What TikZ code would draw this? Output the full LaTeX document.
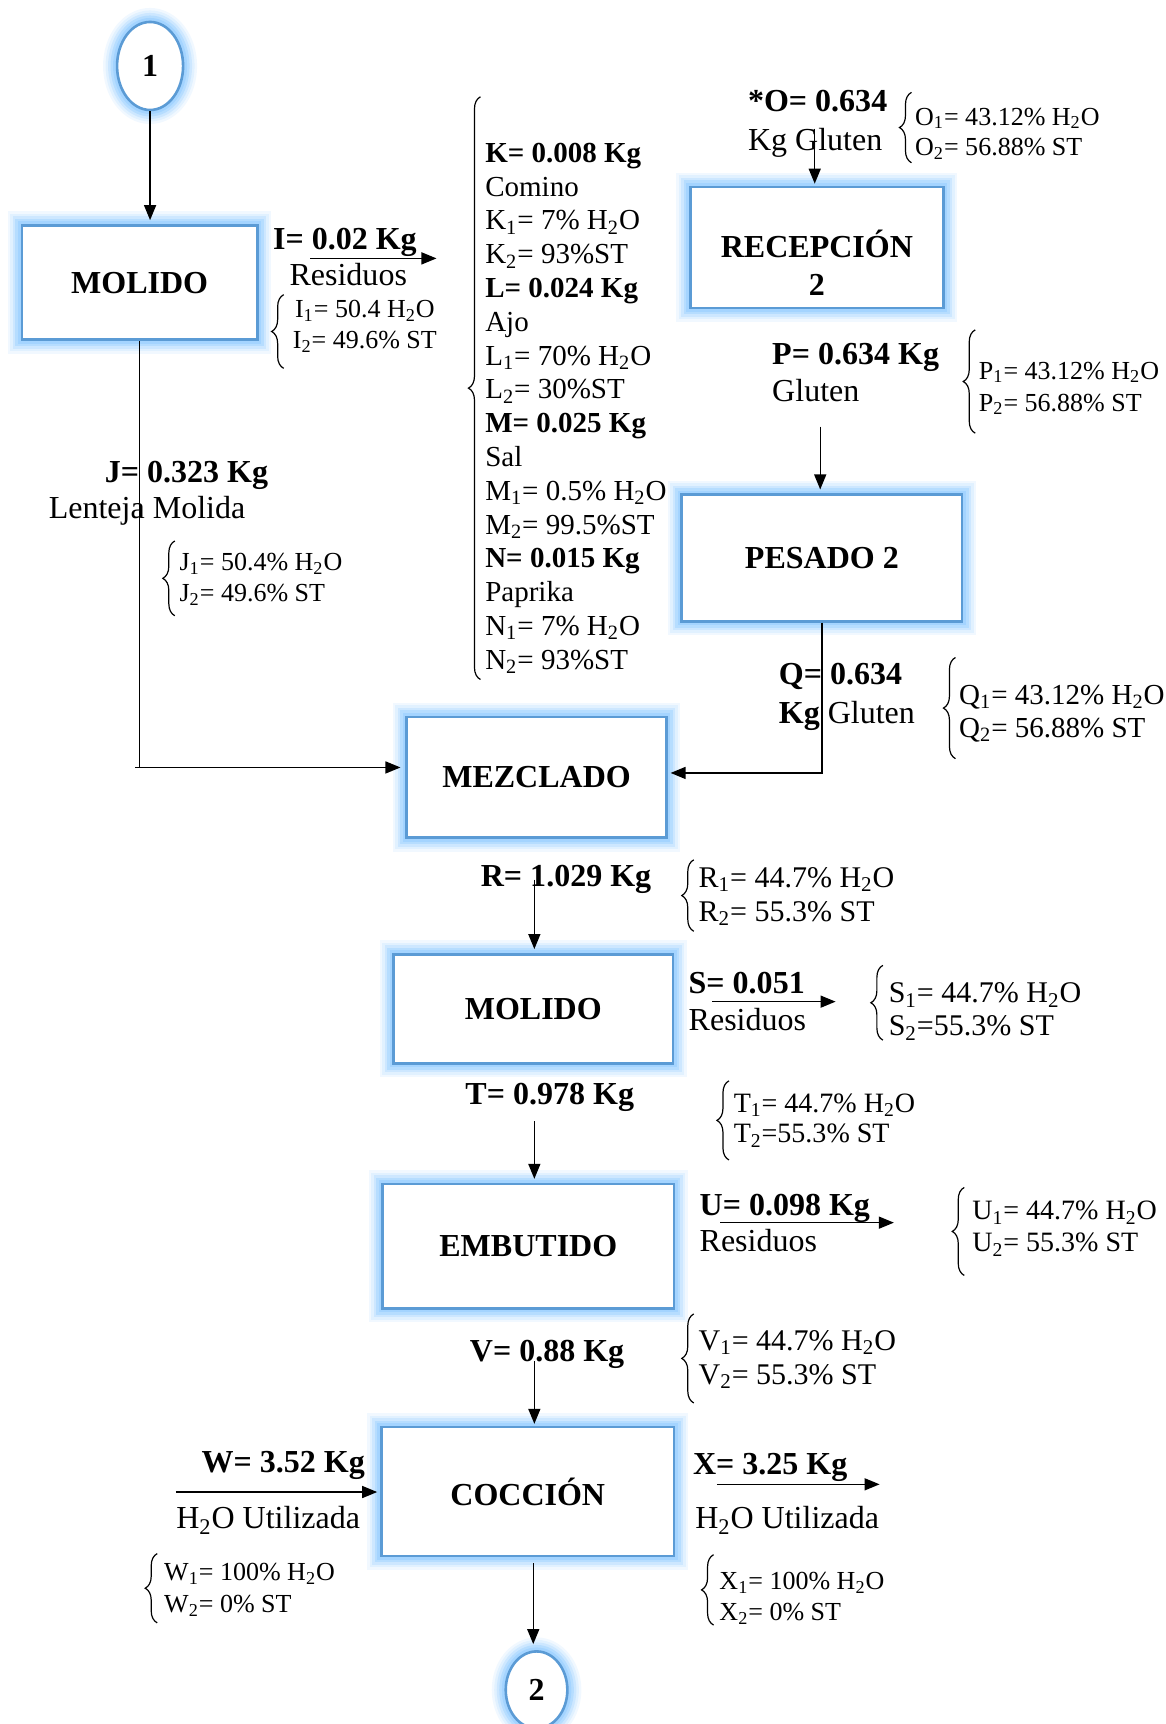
\documentclass[tikz,border=0pt]{standalone}
\usepackage{fontspec}
\setmainfont{Liberation Serif}
\usetikzlibrary{shapes.geometric,arrows.meta,decorations.pathreplacing,calc}
\definecolor{boxblue}{RGB}{91,155,213}
\definecolor{glowblue}{RGB}{160,210,255}
\newcommand\sbs[1]{\textsubscript{#1}}
\newcommand\hdo{H\sbs{2}O}
\begin{document}
\begin{tikzpicture}[x=0.5495pt,y=-0.5495pt,
  glow/.style={preaction={draw=glowblue,line width=14pt,opacity=.15},
               preaction={draw=glowblue,line width=11.5pt,opacity=.2},
               preaction={draw=glowblue,line width=9pt,opacity=.3},
               preaction={draw=glowblue,line width=6.5pt,opacity=.5},
               preaction={draw=glowblue,line width=4pt,opacity=.8}},
  proc/.style={glow,draw=boxblue,line width=1.3pt,fill=white,inner sep=0pt,
               font=\fontsize{16pt}{18.7pt}\selectfont\bfseries,align=center},
  conn/.style={glow,ellipse,draw=boxblue,line width=1.3pt,fill=white,inner sep=0pt,
               font=\fontsize{16pt}{18pt}\selectfont\bfseries},
  txt/.style={anchor=base west,inner sep=0pt,font=\fontsize{#1pt}{#1pt}\selectfont,yshift=-0.33*#1pt},
  arr/.style={line width=0.7pt,-{Triangle[length=7.5pt,width=6pt]}},
  brc/.style={decorate,decoration={brace,amplitude=6pt},line width=0.6pt}]
\useasboundingbox (0,0) rectangle (1060,1568);

% ---------- process boxes and connectors ----------
\node[conn,minimum width=33pt,minimum height=44pt] (c1) at (136.5,60) {1};
\node[proc,minimum width=117.6pt,minimum height=57.1pt] (mol1) at (127,257) {MOLIDO};
\node[proc,minimum width=126.4pt,minimum height=60.4pt] (rec) at (743,225) {};
\node[font=\fontsize{16pt}{18.7pt}\selectfont\bfseries,align=center,inner sep=0pt] (rect) at (743,239) {RECEPCIÓN\\2};
\node[proc,minimum width=140.1pt,minimum height=63.2pt] (pes) at (747.5,507.5) {PESADO 2};
\node[proc,minimum width=129.7pt,minimum height=60.4pt] (mez) at (488,707) {MEZCLADO};
\node[proc,minimum width=139.6pt,minimum height=54.4pt] (mol2) at (485,917.5) {MOLIDO};
\node[proc,minimum width=145.6pt,minimum height=62.1pt] (emb) at (480.5,1133.5) {EMBUTIDO};
\node[proc,minimum width=146.2pt,minimum height=64.3pt] (coc) at (480,1356.5) {COCCIÓN};
\node[conn,minimum width=30.8pt,minimum height=38.5pt] (c2) at (488,1537) {2};

% ---------- I: residue of first milling ----------
\node[txt=16] (iv) at (248,217) {\textbf{I= 0.02 Kg}};
\node[txt=16] (ir) at (263,250) {Residuos};
\draw[brc] (258,335) -- (258,268);
\node[txt=13] (i1) at (268,281) {I\sbs{1}= 50.4 \hdo};
\node[txt=13] (i2) at (266,309) {I\sbs{2}= 49.6\% ST};

% ---------- J: milled lentil ----------
\node[txt=16] (jv) at (95,429) {\textbf{J= 0.323 Kg}};
\node[txt=16] (jn) at (44,462) {Lenteja Molida};
\draw[brc] (159,560) -- (159,492);
\node[txt=13] (j1) at (163,511) {J\sbs{1}= 50.4\% \hdo};
\node[txt=13] (j2) at (163,539) {J\sbs{2}= 49.6\% ST};

% ---------- spices ----------
\draw[brc] (437,618) -- (437,88);
\foreach \t [count=\i] in {
  \textbf{K= 0.008 Kg}, Comino, K\sbs{1}= 7\% \hdo, K\sbs{2}= 93\%ST,
  \textbf{L= 0.024 Kg}, Ajo, L\sbs{1}= 70\% \hdo, L\sbs{2}= 30\%ST,
  \textbf{M= 0.025 Kg}, Sal, M\sbs{1}= 0.5\% \hdo, M\sbs{2}= 99.5\%ST,
  \textbf{N= 0.015 Kg}, Paprika, N\sbs{1}= 7\% \hdo, N\sbs{2}= 93\%ST}
  \node[txt=14.5] (sp\i) at (441,{139+30.73*(\i-1)}) {\t};

% ---------- O: gluten reception ----------
\node[txt=16] (ov) at (680,92) {\textbf{*O= 0.634}};
\node[txt=16] (og) at (680,127) {Kg Gluten};
\draw[brc] (829,148) -- (829,84);
\node[txt=13] (o1) at (832,106) {O\sbs{1}= 43.12\% \hdo};
\node[txt=13] (o2) at (832,134) {O\sbs{2}= 56.88\% ST};

% ---------- P ----------
\node[txt=16] (pv) at (702,322) {\textbf{P= 0.634 Kg}};
\node[txt=16] (pg) at (702,356) {Gluten};
\draw[brc] (887,394) -- (887,300);
\node[txt=13] (p1) at (890,337) {P\sbs{1}= 43.12\% \hdo};
\node[txt=13] (p2) at (890,366) {P\sbs{2}= 56.88\% ST};

% ---------- Q ----------
\node[txt=16] (qv) at (708,613) {\textbf{Q= 0.634}};
\node[txt=16] (qg) at (708,648) {\textbf{Kg} Gluten};
\draw[brc] (869,690) -- (869,598);
\node[txt=14.5] (q1) at (872,632) {Q\sbs{1}= 43.12\% \hdo};
\node[txt=14.5] (q2) at (872,662) {Q\sbs{2}= 56.88\% ST};

% ---------- R ----------
\node[txt=16] (rv) at (437,797) {\textbf{R= 1.029 Kg}};
\draw[brc] (631,847) -- (631,782);
\node[txt=15] (r1) at (635,798) {R\sbs{1}= 44.7\% \hdo};
\node[txt=15] (r2) at (635,829) {R\sbs{2}= 55.3\% ST};

% ---------- S ----------
\node[txt=16] (sv) at (626,894) {\textbf{S= 0.051}};
\node[txt=16] (sr) at (626,928) {Residuos};
\draw[brc] (803,946) -- (803,878);
\node[txt=15] (s1) at (808,903) {S\sbs{1}= 44.7\% \hdo};
\node[txt=15] (s2) at (808,933) {S\sbs{2}=55.3\% ST};

% ---------- T ----------
\node[txt=16] (tv) at (423,995) {\textbf{T= 0.978 Kg}};
\draw[brc] (663,1055) -- (663,983);
\node[txt=14] (t1) at (667,1003) {T\sbs{1}= 44.7\% \hdo};
\node[txt=14] (t2) at (667,1031) {T\sbs{2}=55.3\% ST};

% ---------- U ----------
\node[txt=16] (uv) at (636,1096) {\textbf{U= 0.098 Kg}};
\node[txt=16] (ur) at (636,1129) {Residuos};
\draw[brc] (877,1160) -- (877,1080);
\node[txt=14] (u1) at (884,1101) {U\sbs{1}= 44.7\% \hdo};
\node[txt=14] (u2) at (884,1130) {U\sbs{2}= 55.3\% ST};

% ---------- V ----------
\node[txt=16] (vv) at (427,1229) {\textbf{V= 0.88 Kg}};
\draw[brc] (631,1276) -- (631,1195);
\node[txt=15] (v1) at (635,1219) {V\sbs{1}= 44.7\% \hdo};
\node[txt=15] (v2) at (635,1250) {V\sbs{2}= 55.3\% ST};

% ---------- W and X: cooking water ----------
\node[txt=16] (wv) at (183,1330) {\textbf{W= 3.52 Kg}};
\node[txt=16] (wu) at (160,1381) {\hdo{} Utilizada};
\draw[brc] (143,1476) -- (143,1413);
\node[txt=13] (w1) at (149,1430) {W\sbs{1}= 100\% \hdo};
\node[txt=13] (w2) at (149,1459) {W\sbs{2}= 0\% ST};
\node[txt=16] (xv) at (630,1331) {\textbf{X= 3.25 Kg}};
\node[txt=16] (xu) at (632,1381) {\hdo{} Utilizada};
\draw[brc] (649,1478) -- (649,1414);
\node[txt=13] (x1) at (654,1438) {X\sbs{1}= 100\% \hdo};
\node[txt=13] (x2) at (654,1466) {X\sbs{2}= 0\% ST};

% ---------- flow lines ----------
\coordinate (ia) at (282,235); \coordinate (ib) at (397,235);
\coordinate (jc) at (123,698);
\coordinate (oa) at (741,117);
\coordinate (pa) at (746,388);
\coordinate (ra) at (486,800);
\coordinate (sa) at (648,911); \coordinate (sb) at (760,911);
\coordinate (ta) at (486,1020);
\coordinate (ua) at (655,1112); \coordinate (ub) at (813,1112);
\coordinate (va) at (486,1238);
\coordinate (wa) at (160,1357);
\coordinate (xa) at (652,1350); \coordinate (xb) at (800,1350);
\coordinate (cb) at (485,1422);

\draw[arr,shorten >=2pt] (c1.south) -- (c1.south |- mol1.north);
\draw[arr] (ia) -- (ib);
\draw[line width=0.7pt] (mol1.south) -- (mol1.south |- jc);
\draw[arr,shorten >=2.5pt] (jc) -- (jc -| mez.west);
\draw[arr,shorten >=1pt] (oa) -- (oa |- rec.north);
\draw[arr,shorten >=2pt] (pa) -- (pa |- pes.north);
\draw[arr,shorten >=1.5pt] (pes.south) |- ($(mez.east)+(0,-4)$);
\draw[arr,shorten >=2pt] (ra) -- (ra |- mol2.north);
\draw[arr] (sa) -- (sb);
\draw[arr,shorten >=2pt] (ta) -- (ta |- emb.north);
\draw[arr,shorten >=1pt] (va) -- (va |- coc.north);
\draw[arr,shorten >=1.5pt] (wa) -- (wa -| coc.west);
\draw[arr] (ua) -- (ub);
\draw[arr] (xa) -- (xb);
\draw[arr,shorten >=3pt] (cb) -- (cb |- c2.north);
\end{tikzpicture}
\end{document}
